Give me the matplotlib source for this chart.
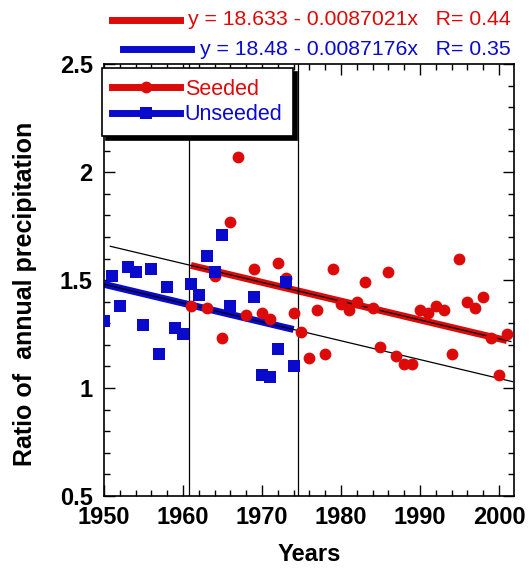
import numpy as np
import matplotlib
matplotlib.use("Agg")
import matplotlib.pyplot as plt
from matplotlib.lines import Line2D

plt.rcParams['font.family'] = ['Liberation Sans', 'DejaVu Sans']

# seeded years (red circles)
seeded_years = [1961, 1963, 1964, 1965, 1966, 1967, 1968, 1969, 1970, 1971, 1972, 1973,
                1974, 1975, 1976, 1977, 1978, 1979, 1980, 1981, 1982, 1983, 1984, 1985,
                1986, 1987, 1988, 1989, 1990, 1991, 1992, 1993, 1994, 1995, 1996, 1997,
                1998, 1999, 2000, 2001]
seeded_ratio = [1.38, 1.37, 1.52, 1.23, 1.77, 2.07, 1.34, 1.55, 1.35, 1.32, 1.58, 1.51,
                1.35, 1.26, 1.14, 1.36, 1.16, 1.55, 1.39, 1.36, 1.40, 1.49, 1.37, 1.19,
                1.54, 1.15, 1.11, 1.11, 1.36, 1.35, 1.38, 1.36, 1.16, 1.60, 1.40, 1.37,
                1.42, 1.23, 1.06, 1.25]

# unseeded years (blue squares)
unseeded_years = [1950, 1951, 1952, 1953, 1954, 1955, 1956, 1957, 1958, 1959, 1960, 1961,
                  1962, 1963, 1964, 1965, 1966, 1969, 1970, 1971, 1972, 1973, 1974]
unseeded_ratio = [1.31, 1.52, 1.38, 1.56, 1.54, 1.29, 1.55, 1.16, 1.47, 1.28, 1.25, 1.48,
                  1.43, 1.61, 1.54, 1.71, 1.38, 1.42, 1.06, 1.05, 1.18, 1.49, 1.10]

# linear fits as printed on the chart: intercept, slope, R
seeded_fit = (18.633, 0.0087021, 0.44)
unseeded_fit = (18.48, 0.0087176, 0.35)

period_marks = [1960.8, 1974.6]

red = '#dd0a0a'
blue = '#0a0acc'

fig = plt.figure(figsize=(5.3, 5.7), dpi=100)
ax = fig.add_axes([0.1962, 0.1298, 0.7736, 0.7574])

def fit_line(fit, x0, x1):
    xs = np.array([x0, x1])
    return xs, fit[0] - fit[1] * xs

# thin black lines: fits drawn over the full span
xs, ys = fit_line(seeded_fit, 1950.8, 2001.5)
ax.plot(xs, ys, color='black', lw=0.9, zorder=2)
xs, ys = fit_line(unseeded_fit, 1950.0, 2001.7)
ax.plot(xs, ys, color='black', lw=0.9, zorder=2)

# thick coloured fits over each data range
xs, ys = fit_line(seeded_fit, min(seeded_years), max(seeded_years))
ax.plot(xs, ys, color=red, lw=5, zorder=1, solid_capstyle='butt')
xs, ys = fit_line(unseeded_fit, min(unseeded_years), max(unseeded_years))
ax.plot(xs, ys, color=blue, lw=5, zorder=1, solid_capstyle='butt')

ax.plot(seeded_years, seeded_ratio, 'o', color=red, ms=8.5, mew=0, zorder=3)
ax.plot(unseeded_years, unseeded_ratio, 's', color=blue, ms=8.5, mew=0, zorder=3)

for xv in period_marks:
    ax.axvline(xv, color='black', lw=0.9, zorder=2)

ax.set_xlim(1950, 2001.9)
ax.set_ylim(0.5, 2.5)
ax.set_xticks(np.arange(1950, 2001, 10))
ax.set_xticks(np.arange(1950, 2002, 2), minor=True)
ax.set_yticks([0.5, 1, 1.5, 2, 2.5])
ax.set_yticklabels(['0.5', '1', '1.5', '2', '2.5'])
ax.set_yticks(np.arange(0.5, 2.51, 0.1), minor=True)
ax.tick_params(which='both', direction='in', top=True, right=True, width=1)
ax.tick_params(which='major', length=8, labelsize=17)
ax.tick_params(which='minor', length=4.5)
ax.tick_params(axis='x', which='major', pad=7.5)
ax.tick_params(axis='y', which='major', pad=8)
for lab in ax.get_xticklabels() + ax.get_yticklabels():
    lab.set_fontweight('bold')
for sp in ax.spines.values():
    sp.set_linewidth(1.2)

ax.set_xlabel('Years', fontsize=17, fontweight='bold')
ax.xaxis.set_label_coords(0.5, -0.108)
ax.set_ylabel('Ratio of  annual precipitation', fontsize=18, fontweight='bold')
ax.yaxis.set_label_coords(-0.163, 0.468)

# legend
h_seed = Line2D([], [], color=red, lw=5, marker='o', ms=8.5, mew=0)
h_unseed = Line2D([], [], color=blue, lw=5, marker='s', ms=8.5, mew=0)
leg = ax.legend([h_seed, h_unseed], ['Seeded', 'Unseeded'], loc='upper left',
                bbox_to_anchor=(-0.0056, 0.9914), borderaxespad=0, fontsize=15.5,
                handlelength=3.16, handletextpad=0.19, labelspacing=0.2,
                borderpad=0.5, fancybox=False, framealpha=1,
                shadow={'color': 'black', 'alpha': 1, 'ox': 3, 'oy': -3})
leg.get_frame().set_edgecolor('black')
leg.get_frame().set_linewidth(1.2)
for txt, c in zip(leg.get_texts(), [red, blue]):
    txt.set_color(c)

# fit equations above the plot
eq_rows = [(seeded_fit, red, 0.965, 0.211, 0.340), (unseeded_fit, blue, 0.914, 0.232, 0.361)]
for fit, c, yf, x0, x1 in eq_rows:
    fig.add_artist(Line2D([x0, x1], [yf, yf], color=c, lw=5, transform=fig.transFigure))
    fig.text(0.9635, yf, 'y = %s - %sx   R= %s' % (fit[0], fit[1], fit[2]),
             color=c, fontsize=15.3, ha='right', va='center')

fig.savefig('out.png', dpi=100)
